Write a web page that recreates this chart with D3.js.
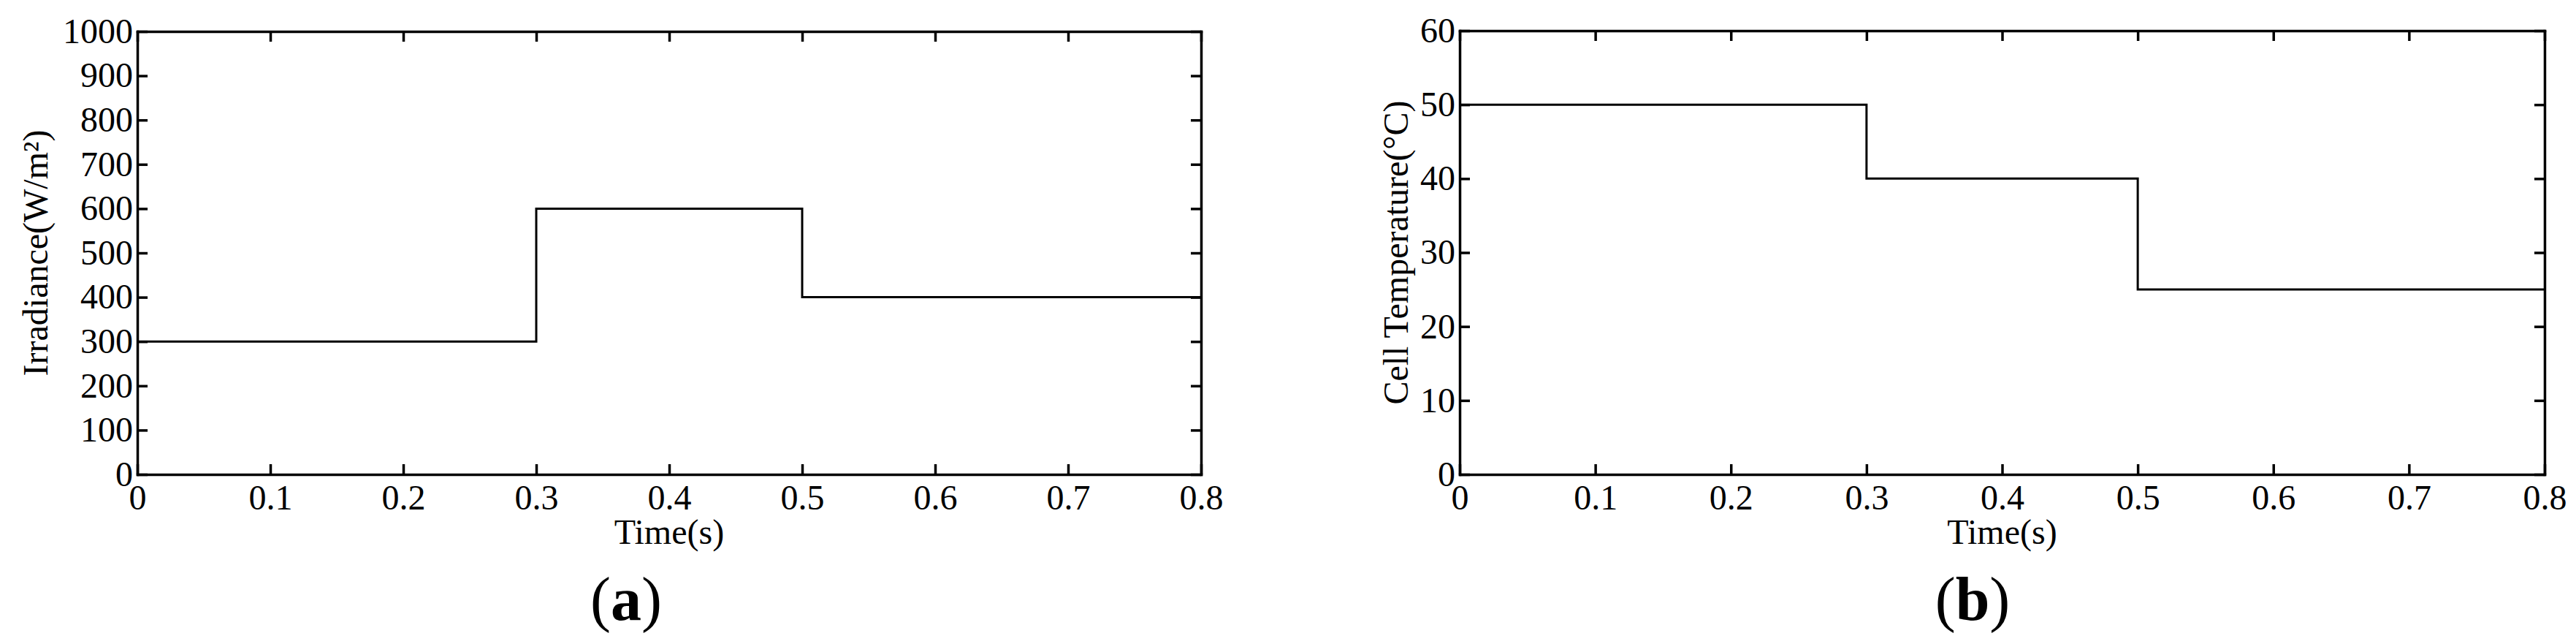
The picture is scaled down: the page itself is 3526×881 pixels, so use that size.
<!DOCTYPE html>
<html>
<head>
<meta charset="utf-8">
<script src="https://cdn.jsdelivr.net/npm/d3@7"></script>
<style>
	html, body { margin: 0; padding: 0; background: #fff; }
	svg { display: block; font-family: 'Liberation Serif', 'Times New Roman', serif; }
	.axis path, .axis line { stroke: #000; stroke-width: 3.5; }
	.axis-title { font-size: 48px; fill: #000; }
	.panel-label { font-size: 84px; fill: #000; }
	.step-line { fill: none; stroke: #000; stroke-width: 3; }
</style>
</head>
<body>
<svg id="chart" width="3526" height="881"></svg>
<script>
// switching times (s), the last one is the end of the run
var timeSteps = [0, 0.3, 0.5, 0.8];
var irradianceValues = [300, 600, 400];
var temperatureValues = [50, 40, 25];

var timeTicks = [0, 0.1, 0.2, 0.3, 0.4, 0.5, 0.6, 0.7, 0.8];
var irradianceTicks = [0, 100, 200, 300, 400, 500, 600, 700, 800, 900, 1000];
var temperatureTicks = [0, 10, 20, 30, 40, 50, 60];

window.app = window.app || {};

app.stepCharts = (function() {

	'use strict';

	var svg = d3.select('#chart'),
		serif = "'Liberation Serif', 'Times New Roman', serif";

	/**
	* turn step values into points, last value held to the end
	* @returns {Array}
	*/
	var toPoints = function(values) {
		var points = values.map(function(v, i) {
			return [timeSteps[i], v];
		});
		points.push([timeSteps[timeSteps.length - 1], values[values.length - 1]]);
		return points;
	};

	/**
	* d3 axis puts sans-serif 10px on the group, use the serif font instead
	* @returns {undefined}
	*/
	var styleAxis = function(axisGroup) {
		axisGroup
			.attr('font-family', serif)
			.attr('font-size', 48);
		axisGroup.selectAll('text')
			.attr('font-family', serif)
			.attr('font-size', 48)
			.attr('fill', '#000');
	};

	/**
	* draw one panel
	* @returns {undefined}
	*/
	var createPanel = function(opts) {
		var width = opts.right - opts.left,
			height = opts.bottom - opts.top;

		var xScale = d3.scaleLinear()
				.domain([0, 0.8])
				.range([0, width]);

		var yScale = d3.scaleLinear()
				.domain([0, d3.max(opts.yTicks)])
				.range([height, 0]);

		var g = svg.append('g')
			.attr('transform', 'translate(' + opts.left + ',' + opts.top + ')');

		// step line
		var line = d3.line()
			.x(function(d) { return xScale(d[0]); })
			.y(function(d) { return yScale(d[1]); })
			.curve(d3.curveStepAfter);

		g.append('path')
			.datum(toPoints(opts.values))
			.attr('class', 'step-line')
			.attr('d', line);

		// axes, ticks pointing inwards on all four sides
		g.append('g')
			.attr('class', 'axis')
			.attr('transform', 'translate(0,' + height + ')')
			.call(d3.axisBottom(xScale).tickValues(timeTicks).tickFormat(String).tickSize(-14).tickSizeOuter(0).tickPadding(14))
			.call(styleAxis);

		g.append('g')
			.attr('class', 'axis')
			.call(d3.axisTop(xScale).tickValues(timeTicks).tickFormat('').tickSize(-14).tickSizeOuter(0));

		g.append('g')
			.attr('class', 'axis')
			.call(d3.axisLeft(yScale).tickValues(opts.yTicks).tickFormat(String).tickSize(-14).tickSizeOuter(0).tickPadding(6))
			.call(styleAxis);

		g.append('g')
			.attr('class', 'axis')
			.attr('transform', 'translate(' + width + ',0)')
			.call(d3.axisRight(yScale).tickValues(opts.yTicks).tickFormat('').tickSize(-14).tickSizeOuter(0));

		g.selectAll('.axis .domain').attr('stroke-linecap', 'square');

		// titles
		svg.append('text')
			.attr('class', 'axis-title')
			.attr('text-anchor', 'middle')
			.attr('x', (opts.left + opts.right) / 2)
			.attr('y', 744)
			.text('Time(s)');

		svg.append('text')
			.attr('class', 'axis-title')
			.attr('text-anchor', 'middle')
			.attr('transform', 'translate(' + opts.yTitleX + ',' + (opts.top + opts.bottom) / 2 + ') rotate(-90)')
			.text(opts.yTitle);

		var label = svg.append('text')
			.attr('class', 'panel-label')
			.attr('text-anchor', 'middle')
			.attr('x', opts.labelX)
			.attr('y', 848);
		label.append('tspan').text('(');
		label.append('tspan').attr('font-weight', 'bold').text(opts.label);
		label.append('tspan').text(')');
	};

	var init = function() {
		createPanel({
			left: 188, right: 1644, top: 43, bottom: 649,
			values: irradianceValues,
			yTicks: irradianceTicks,
			yTitle: 'Irradiance(W/m²)',
			yTitleX: 65,
			label: 'a',
			labelX: 857
		});
		createPanel({
			left: 1998, right: 3483, top: 42, bottom: 649,
			values: temperatureValues,
			yTicks: temperatureTicks,
			yTitle: 'Cell Temperature(°C)',
			yTitleX: 1927,
			label: 'b',
			labelX: 2700
		});
	};

	return {
		init: init
	};

})();

app.stepCharts.init();
</script>
</body>
</html>
